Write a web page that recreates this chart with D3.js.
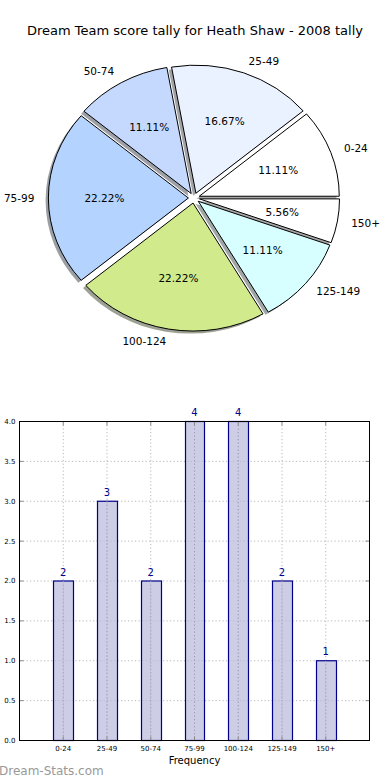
<!DOCTYPE html>
<html>
<head>
<meta charset="utf-8">
<script src="https://cdn.jsdelivr.net/npm/d3@7"></script>
<style>
html,body{margin:0;padding:0;background:#fff;}
svg{display:block;font-family:"DejaVu Sans",sans-serif;}
</style>
</head>
<body>
<svg id="chart" width="390" height="780"></svg>
<script>
const titleText = "Dream Team score tally for Heath Shaw - 2008 tally";
const categories = ["0-24","25-49","50-74","75-99","100-124","125-149","150+"];
const values = [2,3,2,4,4,2,1];
const pieColors = ["#ffffff","#eaf1ff","#c5d9ff","#b4d4ff","#d0ea8c","#d8ffff","#ffffff"];
const yTicks = [0,0.5,1,1.5,2,2.5,3,3.5,4];
const xLabel = "Frequency";
const watermark = "Dream-Stats.com";

const svg = d3.select("#chart");

// Title
svg.append("text").attr("x",195).attr("y",35).attr("text-anchor","middle")
  .attr("font-size",13).attr("fill","#000").text(titleText);

// ---------- Pie ----------
const cx = 194, cy = 198, rx = 140, ry = 128, explode = 0.04;
const total = d3.sum(values);
const pie = d3.pie().sort(null).startAngle(Math.PI/2).endAngle(Math.PI/2 - 2*Math.PI);
const arcs = pie(values);
const arc = d3.arc().innerRadius(0).outerRadius(1);
const pg = svg.append("g").attr("transform",`translate(${cx},${cy})`);
const unit = pg.append("g").attr("transform",`scale(${rx},${ry})`);

function mid(a){ return (a.startAngle + a.endAngle)/2; }
function off(a){ const m = mid(a); return [explode*Math.sin(m), -explode*Math.cos(m)]; }

// shadows
unit.selectAll("path.shadow").data(arcs).join("path").attr("class","shadow")
  .attr("d",arc)
  .attr("transform",d=>{const o=off(d);return `translate(${o[0]-0.02},${o[1]+0.02})`;})
  .attr("fill",(d,i)=>{const c=d3.rgb(pieColors[i]);return d3.rgb(c.r*0.3,c.g*0.3,c.b*0.3);})
  .attr("fill-opacity",0.5);
// slices
unit.selectAll("path.slice").data(arcs).join("path").attr("class","slice")
  .attr("d",arc)
  .attr("transform",d=>{const o=off(d);return `translate(${o[0]},${o[1]})`;})
  .attr("fill",(d,i)=>pieColors[i])
  .attr("stroke","#000").attr("stroke-width",1)
  .attr("vector-effect","non-scaling-stroke")
  .attr("stroke-linejoin","round");

// labels
arcs.forEach((a,i)=>{
  const m = mid(a), o = off(a);
  const sx = Math.sin(m), sy = -Math.cos(m);
  const lx = rx*(o[0] + 1.1*sx), ly = ry*(o[1] + 1.1*sy);
  pg.append("text").attr("x",lx).attr("y",ly).attr("dy","0.35em")
    .attr("text-anchor", lx > 0 ? "start" : "end")
    .attr("font-size",10.5).attr("fill","#000").text(categories[i]);
  const px = rx*(o[0] + 0.6*sx), py = ry*(o[1] + 0.6*sy);
  pg.append("text").attr("x",px).attr("y",py).attr("dy","0.35em")
    .attr("text-anchor","middle")
    .attr("font-size",10.5).attr("fill","#000")
    .text((values[i]/total*100).toFixed(2)+"%");
});

// ---------- Bar chart ----------
const L = 19.5, R = 369.5, T = 421.5, B = 740.5;
const x = d3.scaleLinear().domain([0,8]).range([L,R]);
const y = d3.scaleLinear().domain([0,4]).range([B,T]);
const bg = svg.append("g");
const gridColor = "#b8b8b8";

// grid
bg.selectAll("line.hg").data(yTicks).join("line").attr("class","hg")
  .attr("x1",L).attr("x2",R).attr("y1",d=>y(d)).attr("y2",d=>y(d))
  .attr("stroke",gridColor).attr("stroke-width",1).attr("stroke-dasharray","1.2,2.3");
bg.selectAll("line.vg").data(categories).join("line").attr("class","vg")
  .attr("x1",(d,i)=>x(i+1)).attr("x2",(d,i)=>x(i+1)).attr("y1",T).attr("y2",B)
  .attr("stroke",gridColor).attr("stroke-width",1).attr("stroke-dasharray","1.2,2.3");

// bars
const bw = 0.45;
bg.selectAll("rect.bar").data(values).join("rect").attr("class","bar")
  .attr("x",(d,i)=>Math.round(x(i+1-bw/2))+0.5)
  .attr("width",(d,i)=>Math.round(x(i+1+bw/2))-Math.round(x(i+1-bw/2)))
  .attr("y",d=>y(d)).attr("height",d=>B-y(d))
  .attr("fill","#b8b8dc").attr("fill-opacity",0.7)
  .attr("stroke","#00008b").attr("stroke-width",1.2);

// grid visible through bars
bg.selectAll("line.vg2").data(categories).join("line").attr("class","vg2")
  .attr("x1",(d,i)=>x(i+1)).attr("x2",(d,i)=>x(i+1))
  .attr("y1",(d,i)=>y(values[i])).attr("y2",B)
  .attr("stroke","#9a9ab8").attr("stroke-width",1).attr("stroke-dasharray","1.2,2.3");

// value labels
bg.selectAll("text.val").data(values).join("text").attr("class","val")
  .attr("x",(d,i)=>x(i+1)).attr("y",d=>y(d)-5.5)
  .attr("text-anchor","middle").attr("font-size",10).attr("fill","#00008b")
  .text(d=>d);

// tick marks inside
const tickC = "#888";
bg.selectAll("line.tt").data(categories).join("line").attr("class","tt")
  .attr("x1",(d,i)=>x(i+1)).attr("x2",(d,i)=>x(i+1)).attr("y1",T).attr("y2",T+4)
  .attr("stroke",tickC).attr("stroke-width",1);
bg.selectAll("line.tb").data(categories).join("line").attr("class","tb")
  .attr("x1",(d,i)=>x(i+1)).attr("x2",(d,i)=>x(i+1)).attr("y1",B).attr("y2",B-4)
  .attr("stroke",tickC).attr("stroke-width",1);
bg.selectAll("line.tr").data(yTicks).join("line").attr("class","tr")
  .attr("x1",R).attr("x2",R-4).attr("y1",d=>y(d)).attr("y2",d=>y(d))
  .attr("stroke",tickC).attr("stroke-width",1);
bg.selectAll("line.tl").data(yTicks).join("line").attr("class","tl")
  .attr("x1",L).attr("x2",L+4).attr("y1",d=>y(d)).attr("y2",d=>y(d))
  .attr("stroke",tickC).attr("stroke-width",1);

// frame
bg.append("rect").attr("x",L).attr("y",T).attr("width",R-L).attr("height",B-T)
  .attr("fill","none").attr("stroke","#000").attr("stroke-width",1);

// tick labels
bg.selectAll("text.yl").data(yTicks).join("text").attr("class","yl")
  .attr("x",L-4).attr("y",d=>y(d)).attr("dy","0.35em")
  .attr("text-anchor","end").attr("font-size",7).attr("fill","#000")
  .text(d=>d.toFixed(1));
bg.selectAll("text.xl").data(categories).join("text").attr("class","xl")
  .attr("x",(d,i)=>x(i+1)).attr("y",B+10)
  .attr("text-anchor","middle").attr("font-size",7).attr("fill","#000")
  .text(d=>d);
bg.append("text").attr("x",(L+R)/2).attr("y",764).attr("text-anchor","middle")
  .attr("font-size",10).attr("fill","#000").text(xLabel);

// watermark
svg.append("text").attr("x",-1).attr("y",775).attr("font-size",12)
  .attr("fill","#999").text(watermark);
</script>
</body>
</html>
